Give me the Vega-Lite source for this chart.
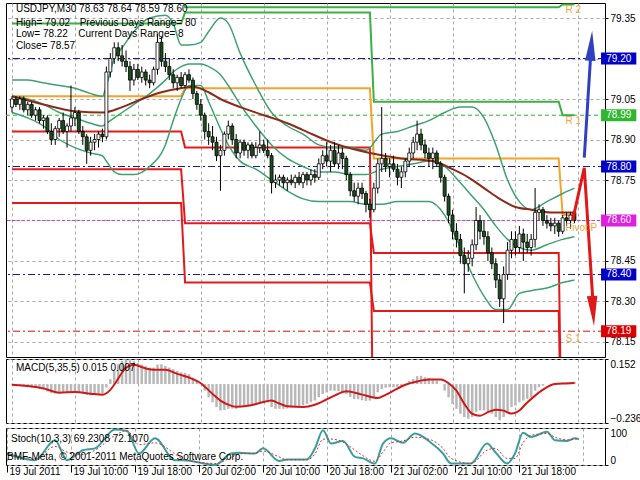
{
"$schema": "https://vega.github.io/schema/vega-lite/v6.json",
"background": "white",
"padding": {"left": 2, "top": 2, "right": 0, "bottom": 0},
"spacing": 0,
"config": {
  "font": "Liberation Sans",
  "view": {"stroke": "black", "strokeWidth": 1},
  "axis": {"labelFont": "Liberation Sans", "labelFontSize": 10, "labelColor": "black", "tickColor": "black", "domain": false, "gridColor": "#a8a8a8", "gridDash": [3, 3], "gridWidth": 1, "gridOpacity": 1, "labelOverlap": false},
  "text": {"font": "Liberation Sans", "fontSize": 10, "color": "black"}
},
"datasets": {
  "bars": [
    {"t":"2011-07-19T02:00","o":79.02,"h":79.06,"l":79.00,"c":79.05,"m":-0.005},
    {"t":"2011-07-19T02:30","o":79.05,"h":79.06,"l":79.02,"c":79.03,"m":-0.008},
    {"t":"2011-07-19T03:00","o":79.03,"h":79.06,"l":79.01,"c":79.05,"m":-0.010},
    {"t":"2011-07-19T03:30","o":79.05,"h":79.06,"l":79.00,"c":79.01,"m":-0.015},
    {"t":"2011-07-19T04:00","o":79.01,"h":79.04,"l":78.99,"c":79.03,"m":-0.018},
    {"t":"2011-07-19T04:30","o":79.03,"h":79.04,"l":78.98,"c":78.99,"m":-0.022},
    {"t":"2011-07-19T05:00","o":78.99,"h":79.02,"l":78.97,"c":79.01,"m":-0.025},
    {"t":"2011-07-19T05:30","o":79.01,"h":79.02,"l":78.96,"c":78.97,"m":-0.030},
    {"t":"2011-07-19T06:00","o":78.97,"h":78.99,"l":78.94,"c":78.98,"m":-0.035},
    {"t":"2011-07-19T06:30","o":78.98,"h":78.99,"l":78.92,"c":78.93,"m":-0.045},
    {"t":"2011-07-19T07:00","o":78.93,"h":78.96,"l":78.88,"c":78.90,"m":-0.055},
    {"t":"2011-07-19T07:30","o":78.90,"h":78.95,"l":78.88,"c":78.94,"m":-0.058},
    {"t":"2011-07-19T08:00","o":78.94,"h":78.98,"l":78.91,"c":78.97,"m":-0.055},
    {"t":"2011-07-19T08:30","o":78.97,"h":79.00,"l":78.92,"c":78.93,"m":-0.052},
    {"t":"2011-07-19T09:00","o":78.93,"h":78.96,"l":78.87,"c":78.95,"m":-0.050},
    {"t":"2011-07-19T09:30","o":78.95,"h":79.10,"l":78.93,"c":78.98,"m":-0.045},
    {"t":"2011-07-19T10:00","o":78.98,"h":79.02,"l":78.95,"c":79.00,"m":-0.045},
    {"t":"2011-07-19T10:30","o":79.00,"h":79.01,"l":78.92,"c":78.93,"m":-0.050},
    {"t":"2011-07-19T11:00","o":78.93,"h":78.95,"l":78.88,"c":78.91,"m":-0.058},
    {"t":"2011-07-19T11:30","o":78.91,"h":78.92,"l":78.81,"c":78.86,"m":-0.065},
    {"t":"2011-07-19T12:00","o":78.86,"h":78.91,"l":78.84,"c":78.89,"m":-0.068},
    {"t":"2011-07-19T12:30","o":78.89,"h":78.92,"l":78.86,"c":78.90,"m":-0.066},
    {"t":"2011-07-19T13:00","o":78.90,"h":78.93,"l":78.87,"c":78.92,"m":-0.062},
    {"t":"2011-07-19T13:30","o":78.92,"h":78.94,"l":78.89,"c":78.91,"m":-0.058},
    {"t":"2011-07-19T14:00","o":78.91,"h":79.17,"l":78.90,"c":79.15,"m":-0.020},
    {"t":"2011-07-19T14:30","o":79.15,"h":79.22,"l":79.13,"c":79.20,"m":0.030},
    {"t":"2011-07-19T15:00","o":79.20,"h":79.26,"l":79.18,"c":79.24,"m":0.080},
    {"t":"2011-07-19T15:30","o":79.24,"h":79.26,"l":79.19,"c":79.21,"m":0.120},
    {"t":"2011-07-19T16:00","o":79.21,"h":79.25,"l":79.17,"c":79.19,"m":0.140},
    {"t":"2011-07-19T16:30","o":79.19,"h":79.23,"l":79.15,"c":79.17,"m":0.150},
    {"t":"2011-07-19T17:00","o":79.17,"h":79.19,"l":79.08,"c":79.12,"m":0.145},
    {"t":"2011-07-19T17:30","o":79.12,"h":79.18,"l":79.10,"c":79.16,"m":0.138},
    {"t":"2011-07-19T18:00","o":79.16,"h":79.18,"l":79.12,"c":79.13,"m":0.128},
    {"t":"2011-07-19T18:30","o":79.13,"h":79.17,"l":79.11,"c":79.15,"m":0.118},
    {"t":"2011-07-19T19:00","o":79.15,"h":79.16,"l":79.10,"c":79.12,"m":0.108},
    {"t":"2011-07-19T19:30","o":79.12,"h":79.14,"l":79.09,"c":79.11,"m":0.100},
    {"t":"2011-07-19T20:00","o":79.11,"h":79.17,"l":79.10,"c":79.16,"m":0.100},
    {"t":"2011-07-19T20:30","o":79.16,"h":79.29,"l":79.14,"c":79.26,"m":0.118},
    {"t":"2011-07-19T21:00","o":79.26,"h":79.28,"l":79.17,"c":79.19,"m":0.120},
    {"t":"2011-07-19T21:30","o":79.19,"h":79.22,"l":79.15,"c":79.17,"m":0.110},
    {"t":"2011-07-19T22:00","o":79.17,"h":79.20,"l":79.12,"c":79.14,"m":0.100},
    {"t":"2011-07-19T22:30","o":79.14,"h":79.16,"l":79.09,"c":79.11,"m":0.090},
    {"t":"2011-07-19T23:00","o":79.11,"h":79.14,"l":79.08,"c":79.13,"m":0.080},
    {"t":"2011-07-19T23:30","o":79.13,"h":79.15,"l":79.09,"c":79.10,"m":0.070},
    {"t":"2011-07-20T00:00","o":79.10,"h":79.15,"l":79.09,"c":79.14,"m":0.068},
    {"t":"2011-07-20T00:30","o":79.14,"h":79.16,"l":79.11,"c":79.12,"m":0.060},
    {"t":"2011-07-20T01:00","o":79.12,"h":79.13,"l":79.05,"c":79.07,"m":0.040},
    {"t":"2011-07-20T01:30","o":79.07,"h":79.08,"l":79.01,"c":79.03,"m":0.020},
    {"t":"2011-07-20T02:00","o":79.03,"h":79.05,"l":78.97,"c":78.99,"m":0.000},
    {"t":"2011-07-20T02:30","o":78.99,"h":79.00,"l":78.90,"c":78.93,"m":-0.040},
    {"t":"2011-07-20T03:00","o":78.93,"h":78.96,"l":78.88,"c":78.91,"m":-0.080},
    {"t":"2011-07-20T03:30","o":78.91,"h":78.95,"l":78.86,"c":78.89,"m":-0.110},
    {"t":"2011-07-20T04:00","o":78.89,"h":78.91,"l":78.82,"c":78.84,"m":-0.140},
    {"t":"2011-07-20T04:30","o":78.84,"h":78.88,"l":78.71,"c":78.86,"m":-0.160},
    {"t":"2011-07-20T05:00","o":78.86,"h":78.93,"l":78.84,"c":78.92,"m":-0.158},
    {"t":"2011-07-20T05:30","o":78.92,"h":78.97,"l":78.90,"c":78.95,"m":-0.150},
    {"t":"2011-07-20T06:00","o":78.95,"h":78.96,"l":78.88,"c":78.90,"m":-0.148},
    {"t":"2011-07-20T06:30","o":78.90,"h":78.92,"l":78.83,"c":78.85,"m":-0.150},
    {"t":"2011-07-20T07:00","o":78.85,"h":78.90,"l":78.83,"c":78.89,"m":-0.140},
    {"t":"2011-07-20T07:30","o":78.89,"h":78.90,"l":78.84,"c":78.86,"m":-0.132},
    {"t":"2011-07-20T08:00","o":78.86,"h":78.89,"l":78.83,"c":78.88,"m":-0.128},
    {"t":"2011-07-20T08:30","o":78.88,"h":78.89,"l":78.83,"c":78.84,"m":-0.128},
    {"t":"2011-07-20T09:00","o":78.84,"h":78.89,"l":78.83,"c":78.87,"m":-0.120},
    {"t":"2011-07-20T09:30","o":78.87,"h":78.93,"l":78.85,"c":78.88,"m":-0.110},
    {"t":"2011-07-20T10:00","o":78.88,"h":78.90,"l":78.85,"c":78.86,"m":-0.108},
    {"t":"2011-07-20T10:30","o":78.86,"h":78.90,"l":78.83,"c":78.84,"m":-0.112},
    {"t":"2011-07-20T11:00","o":78.84,"h":78.85,"l":78.70,"c":78.74,"m":-0.140},
    {"t":"2011-07-20T11:30","o":78.74,"h":78.77,"l":78.72,"c":78.75,"m":-0.150},
    {"t":"2011-07-20T12:00","o":78.75,"h":78.77,"l":78.73,"c":78.76,"m":-0.150},
    {"t":"2011-07-20T12:30","o":78.76,"h":78.77,"l":78.72,"c":78.74,"m":-0.150},
    {"t":"2011-07-20T13:00","o":78.74,"h":78.76,"l":78.71,"c":78.75,"m":-0.148},
    {"t":"2011-07-20T13:30","o":78.75,"h":78.77,"l":78.73,"c":78.74,"m":-0.142},
    {"t":"2011-07-20T14:00","o":78.74,"h":78.77,"l":78.72,"c":78.76,"m":-0.138},
    {"t":"2011-07-20T14:30","o":78.76,"h":78.78,"l":78.73,"c":78.74,"m":-0.132},
    {"t":"2011-07-20T15:00","o":78.74,"h":78.78,"l":78.72,"c":78.77,"m":-0.128},
    {"t":"2011-07-20T15:30","o":78.77,"h":78.78,"l":78.73,"c":78.75,"m":-0.120},
    {"t":"2011-07-20T16:00","o":78.75,"h":78.79,"l":78.73,"c":78.77,"m":-0.110},
    {"t":"2011-07-20T16:30","o":78.77,"h":78.79,"l":78.74,"c":78.76,"m":-0.100},
    {"t":"2011-07-20T17:00","o":78.76,"h":78.83,"l":78.75,"c":78.81,"m":-0.080},
    {"t":"2011-07-20T17:30","o":78.81,"h":78.86,"l":78.79,"c":78.84,"m":-0.060},
    {"t":"2011-07-20T18:00","o":78.84,"h":78.89,"l":78.80,"c":78.82,"m":-0.050},
    {"t":"2011-07-20T18:30","o":78.82,"h":78.88,"l":78.78,"c":78.86,"m":-0.040},
    {"t":"2011-07-20T19:00","o":78.86,"h":78.89,"l":78.80,"c":78.81,"m":-0.040},
    {"t":"2011-07-20T19:30","o":78.81,"h":78.88,"l":78.79,"c":78.85,"m":-0.042},
    {"t":"2011-07-20T20:00","o":78.85,"h":78.87,"l":78.79,"c":78.83,"m":-0.050},
    {"t":"2011-07-20T20:30","o":78.83,"h":78.84,"l":78.75,"c":78.77,"m":-0.060},
    {"t":"2011-07-20T21:00","o":78.77,"h":78.78,"l":78.69,"c":78.71,"m":-0.078},
    {"t":"2011-07-20T21:30","o":78.71,"h":78.74,"l":78.67,"c":78.69,"m":-0.090},
    {"t":"2011-07-20T22:00","o":78.69,"h":78.74,"l":78.66,"c":78.72,"m":-0.092},
    {"t":"2011-07-20T22:30","o":78.72,"h":78.74,"l":78.68,"c":78.70,"m":-0.098},
    {"t":"2011-07-20T23:00","o":78.70,"h":78.71,"l":78.63,"c":78.66,"m":-0.102},
    {"t":"2011-07-20T23:30","o":78.66,"h":78.68,"l":78.61,"c":78.64,"m":-0.100},
    {"t":"2011-07-21T00:00","o":78.64,"h":78.74,"l":78.63,"c":78.72,"m":-0.080},
    {"t":"2011-07-21T00:30","o":78.72,"h":78.83,"l":78.70,"c":78.81,"m":-0.050},
    {"t":"2011-07-21T01:00","o":78.81,"h":79.02,"l":78.78,"c":78.83,"m":-0.030},
    {"t":"2011-07-21T01:30","o":78.83,"h":78.85,"l":78.78,"c":78.80,"m":-0.022},
    {"t":"2011-07-21T02:00","o":78.80,"h":78.83,"l":78.76,"c":78.81,"m":-0.020},
    {"t":"2011-07-21T02:30","o":78.81,"h":78.84,"l":78.78,"c":78.79,"m":-0.020},
    {"t":"2011-07-21T03:00","o":78.79,"h":78.81,"l":78.73,"c":78.76,"m":-0.020},
    {"t":"2011-07-21T03:30","o":78.76,"h":78.80,"l":78.72,"c":78.78,"m":-0.012},
    {"t":"2011-07-21T04:00","o":78.78,"h":78.83,"l":78.76,"c":78.82,"m":0.000},
    {"t":"2011-07-21T04:30","o":78.82,"h":78.87,"l":78.80,"c":78.85,"m":0.018},
    {"t":"2011-07-21T05:00","o":78.85,"h":78.91,"l":78.83,"c":78.89,"m":0.032},
    {"t":"2011-07-21T05:30","o":78.89,"h":78.97,"l":78.86,"c":78.92,"m":0.048},
    {"t":"2011-07-21T06:00","o":78.92,"h":78.94,"l":78.86,"c":78.88,"m":0.050},
    {"t":"2011-07-21T06:30","o":78.88,"h":78.90,"l":78.83,"c":78.85,"m":0.042},
    {"t":"2011-07-21T07:00","o":78.85,"h":78.87,"l":78.80,"c":78.83,"m":0.038},
    {"t":"2011-07-21T07:30","o":78.83,"h":78.87,"l":78.79,"c":78.85,"m":0.032},
    {"t":"2011-07-21T08:00","o":78.85,"h":78.86,"l":78.80,"c":78.81,"m":0.020},
    {"t":"2011-07-21T08:30","o":78.81,"h":78.82,"l":78.74,"c":78.76,"m":0.000},
    {"t":"2011-07-21T09:00","o":78.76,"h":78.77,"l":78.67,"c":78.69,"m":-0.040},
    {"t":"2011-07-21T09:30","o":78.69,"h":78.70,"l":78.59,"c":78.62,"m":-0.080},
    {"t":"2011-07-21T10:00","o":78.62,"h":78.64,"l":78.53,"c":78.56,"m":-0.120},
    {"t":"2011-07-21T10:30","o":78.56,"h":78.59,"l":78.50,"c":78.53,"m":-0.150},
    {"t":"2011-07-21T11:00","o":78.53,"h":78.55,"l":78.44,"c":78.47,"m":-0.180},
    {"t":"2011-07-21T11:30","o":78.47,"h":78.50,"l":78.33,"c":78.44,"m":-0.200},
    {"t":"2011-07-21T12:00","o":78.44,"h":78.49,"l":78.41,"c":78.46,"m":-0.210},
    {"t":"2011-07-21T12:30","o":78.46,"h":78.53,"l":78.43,"c":78.51,"m":-0.200},
    {"t":"2011-07-21T13:00","o":78.51,"h":78.65,"l":78.49,"c":78.60,"m":-0.170},
    {"t":"2011-07-21T13:30","o":78.60,"h":78.62,"l":78.53,"c":78.56,"m":-0.160},
    {"t":"2011-07-21T14:00","o":78.56,"h":78.60,"l":78.51,"c":78.54,"m":-0.160},
    {"t":"2011-07-21T14:30","o":78.54,"h":78.56,"l":78.45,"c":78.48,"m":-0.170},
    {"t":"2011-07-21T15:00","o":78.48,"h":78.50,"l":78.42,"c":78.44,"m":-0.180},
    {"t":"2011-07-21T15:30","o":78.44,"h":78.46,"l":78.35,"c":78.38,"m":-0.200},
    {"t":"2011-07-21T16:00","o":78.38,"h":78.40,"l":78.28,"c":78.31,"m":-0.220},
    {"t":"2011-07-21T16:30","o":78.31,"h":78.43,"l":78.22,"c":78.40,"m":-0.200},
    {"t":"2011-07-21T17:00","o":78.40,"h":78.52,"l":78.38,"c":78.49,"m":-0.170},
    {"t":"2011-07-21T17:30","o":78.49,"h":78.56,"l":78.46,"c":78.53,"m":-0.140},
    {"t":"2011-07-21T18:00","o":78.53,"h":78.56,"l":78.47,"c":78.50,"m":-0.130},
    {"t":"2011-07-21T18:30","o":78.50,"h":78.58,"l":78.48,"c":78.55,"m":-0.110},
    {"t":"2011-07-21T19:00","o":78.55,"h":78.57,"l":78.45,"c":78.52,"m":-0.100},
    {"t":"2011-07-21T19:30","o":78.52,"h":78.55,"l":78.48,"c":78.50,"m":-0.090},
    {"t":"2011-07-21T20:00","o":78.50,"h":78.55,"l":78.47,"c":78.53,"m":-0.080},
    {"t":"2011-07-21T20:30","o":78.53,"h":78.72,"l":78.50,"c":78.63,"m":-0.040},
    {"t":"2011-07-21T21:00","o":78.63,"h":78.66,"l":78.60,"c":78.64,"m":-0.020},
    {"t":"2011-07-21T21:30","o":78.64,"h":78.65,"l":78.58,"c":78.60,"m":-0.010},
    {"t":"2011-07-21T22:00","o":78.60,"h":78.62,"l":78.57,"c":78.59,"m":0.000},
    {"t":"2011-07-21T22:30","o":78.59,"h":78.61,"l":78.56,"c":78.58,"m":0.000},
    {"t":"2011-07-21T23:00","o":78.58,"h":78.61,"l":78.55,"c":78.59,"m":0.002},
    {"t":"2011-07-21T23:30","o":78.59,"h":78.60,"l":78.54,"c":78.56,"m":0.003},
    {"t":"2011-07-22T00:00","o":78.56,"h":78.62,"l":78.55,"c":78.61,"m":0.008},
    {"t":"2011-07-22T00:30","o":78.61,"h":78.63,"l":78.58,"c":78.60,"m":0.010},
    {"t":"2011-07-22T01:00","o":78.60,"h":78.63,"l":78.57,"c":78.62,"m":0.012},
    {"t":"2011-07-22T01:30","o":78.63,"h":78.64,"l":78.59,"c":78.60,"m":0.015}
  ],
  "bb": [
    {"t":"2011-07-19T02:00","up":79.12,"mid":79.06,"lo":79.00},
    {"t":"2011-07-19T04:00","up":79.12,"mid":79.05,"lo":78.98},
    {"t":"2011-07-19T06:00","up":79.11,"mid":79.03,"lo":78.95},
    {"t":"2011-07-19T08:00","up":79.10,"mid":79.00,"lo":78.90},
    {"t":"2011-07-19T10:00","up":79.09,"mid":78.98,"lo":78.87},
    {"t":"2011-07-19T12:00","up":79.07,"mid":78.96,"lo":78.85},
    {"t":"2011-07-19T13:30","up":79.06,"mid":78.95,"lo":78.84},
    {"t":"2011-07-19T14:00","up":79.10,"mid":78.96,"lo":78.82},
    {"t":"2011-07-19T15:00","up":79.20,"mid":78.98,"lo":78.78},
    {"t":"2011-07-19T16:00","up":79.24,"mid":79.00,"lo":78.77},
    {"t":"2011-07-19T17:30","up":79.30,"mid":79.03,"lo":78.77},
    {"t":"2011-07-19T19:30","up":79.35,"mid":79.07,"lo":78.80},
    {"t":"2011-07-19T21:30","up":79.36,"mid":79.12,"lo":78.88},
    {"t":"2011-07-19T22:30","up":79.33,"mid":79.15,"lo":78.97},
    {"t":"2011-07-19T23:30","up":79.25,"mid":79.17,"lo":79.05},
    {"t":"2011-07-20T00:30","up":79.25,"mid":79.18,"lo":79.10},
    {"t":"2011-07-20T02:00","up":79.26,"mid":79.18,"lo":79.10},
    {"t":"2011-07-20T03:00","up":79.30,"mid":79.17,"lo":79.04},
    {"t":"2011-07-20T04:30","up":79.35,"mid":79.14,"lo":78.94},
    {"t":"2011-07-20T05:30","up":79.33,"mid":79.10,"lo":78.88},
    {"t":"2011-07-20T07:00","up":79.22,"mid":79.03,"lo":78.82},
    {"t":"2011-07-20T09:00","up":79.10,"mid":78.95,"lo":78.79},
    {"t":"2011-07-20T11:00","up":79.00,"mid":78.88,"lo":78.75},
    {"t":"2011-07-20T13:00","up":78.95,"mid":78.83,"lo":78.71},
    {"t":"2011-07-20T15:00","up":78.92,"mid":78.80,"lo":78.68},
    {"t":"2011-07-20T17:00","up":78.88,"mid":78.78,"lo":78.67},
    {"t":"2011-07-20T19:00","up":78.87,"mid":78.78,"lo":78.67},
    {"t":"2011-07-20T21:00","up":78.87,"mid":78.77,"lo":78.67},
    {"t":"2011-07-20T23:00","up":78.86,"mid":78.77,"lo":78.66},
    {"t":"2011-07-21T01:00","up":78.92,"mid":78.79,"lo":78.66},
    {"t":"2011-07-21T03:00","up":78.93,"mid":78.80,"lo":78.67},
    {"t":"2011-07-21T05:00","up":78.95,"mid":78.81,"lo":78.67},
    {"t":"2011-07-21T07:00","up":78.97,"mid":78.82,"lo":78.67},
    {"t":"2011-07-21T09:00","up":79.00,"mid":78.80,"lo":78.62},
    {"t":"2011-07-21T11:00","up":79.02,"mid":78.74,"lo":78.50},
    {"t":"2011-07-21T12:30","up":79.02,"mid":78.69,"lo":78.40},
    {"t":"2011-07-21T14:00","up":78.98,"mid":78.64,"lo":78.32},
    {"t":"2011-07-21T15:30","up":78.88,"mid":78.58,"lo":78.27},
    {"t":"2011-07-21T17:00","up":78.75,"mid":78.53,"lo":78.27},
    {"t":"2011-07-21T18:30","up":78.67,"mid":78.50,"lo":78.33},
    {"t":"2011-07-21T20:00","up":78.64,"mid":78.49,"lo":78.34},
    {"t":"2011-07-21T22:00","up":78.67,"mid":78.51,"lo":78.35},
    {"t":"2011-07-22T00:00","up":78.70,"mid":78.53,"lo":78.37},
    {"t":"2011-07-22T01:30","up":78.72,"mid":78.54,"lo":78.38}
  ],
  "ma": [
    {"t":"2011-07-19T02:00","v":79.06},{"t":"2011-07-19T06:00","v":79.03},{"t":"2011-07-19T10:00","v":79.005},
    {"t":"2011-07-19T13:30","v":79.0},{"t":"2011-07-19T16:00","v":79.02},{"t":"2011-07-19T18:30","v":79.05},
    {"t":"2011-07-19T21:00","v":79.075},{"t":"2011-07-19T23:30","v":79.09},{"t":"2011-07-20T01:00","v":79.095},
    {"t":"2011-07-20T03:00","v":79.075},{"t":"2011-07-20T04:30","v":79.05},{"t":"2011-07-20T07:00","v":79.02},
    {"t":"2011-07-20T10:00","v":78.99},{"t":"2011-07-20T13:00","v":78.96},{"t":"2011-07-20T15:00","v":78.935},
    {"t":"2011-07-20T19:00","v":78.885},{"t":"2011-07-20T23:30","v":78.85},{"t":"2011-07-21T03:30","v":78.83},
    {"t":"2011-07-21T07:30","v":78.82},{"t":"2011-07-21T10:00","v":78.79},{"t":"2011-07-21T12:00","v":78.76},
    {"t":"2011-07-21T14:00","v":78.72},{"t":"2011-07-21T16:00","v":78.68},{"t":"2011-07-21T18:00","v":78.65},
    {"t":"2011-07-21T20:00","v":78.64},{"t":"2011-07-21T22:30","v":78.63},{"t":"2011-07-22T01:30","v":78.63}
  ],
  "piv": [
    {"s":"PP","t":"2011-07-19T02:00","p":79.06},{"s":"PP","t":"2011-07-19T23:30","p":79.06},{"s":"PP","t":"2011-07-20T00:00","p":79.09},{"s":"PP","t":"2011-07-20T23:30","p":79.09},{"s":"PP","t":"2011-07-21T00:00","p":78.83},{"s":"PP","t":"2011-07-21T23:30","p":78.83},{"s":"PP","t":"2011-07-22T00:00","p":78.62},{"s":"PP","t":"2011-07-22T01:30","p":78.62},
    {"s":"R1","t":"2011-07-19T02:00","p":79.33},{"s":"R1","t":"2011-07-19T23:30","p":79.33},{"s":"R1","t":"2011-07-20T00:00","p":79.37},{"s":"R1","t":"2011-07-20T23:30","p":79.37},{"s":"R1","t":"2011-07-21T00:00","p":79.04},{"s":"R1","t":"2011-07-21T23:30","p":79.04},{"s":"R1","t":"2011-07-22T00:00","p":78.99},{"s":"R1","t":"2011-07-22T01:30","p":78.99},
    {"s":"R2","t":"2011-07-19T02:00","p":79.6},{"s":"R2","t":"2011-07-19T23:30","p":79.6},{"s":"R2","t":"2011-07-20T00:00","p":79.39},{"s":"R2","t":"2011-07-20T23:30","p":79.39},{"s":"R2","t":"2011-07-21T00:00","p":79.39},{"s":"R2","t":"2011-07-21T23:30","p":79.39},{"s":"R2","t":"2011-07-22T00:00","p":79.40},{"s":"R2","t":"2011-07-22T01:30","p":79.40},
    {"s":"S1","t":"2011-07-19T02:00","p":78.93},{"s":"S1","t":"2011-07-19T23:30","p":78.93},{"s":"S1","t":"2011-07-20T00:00","p":78.87},{"s":"S1","t":"2011-07-20T23:30","p":78.87},{"s":"S1","t":"2011-07-21T00:00","p":77.5},{"s":"S1","t":"2011-07-22T01:30","p":77.5},
    {"s":"S2","t":"2011-07-19T02:00","p":78.79},{"s":"S2","t":"2011-07-19T23:30","p":78.79},{"s":"S2","t":"2011-07-20T00:00","p":78.59},{"s":"S2","t":"2011-07-20T23:30","p":78.59},{"s":"S2","t":"2011-07-21T00:00","p":78.48},{"s":"S2","t":"2011-07-21T23:30","p":78.48},{"s":"S2","t":"2011-07-22T00:00","p":77.5},{"s":"S2","t":"2011-07-22T01:30","p":77.5},
    {"s":"S3","t":"2011-07-19T02:00","p":78.665},{"s":"S3","t":"2011-07-19T23:30","p":78.665},{"s":"S3","t":"2011-07-20T00:00","p":78.37},{"s":"S3","t":"2011-07-20T23:30","p":78.37},{"s":"S3","t":"2011-07-21T00:00","p":78.265},{"s":"S3","t":"2011-07-21T23:30","p":78.265},{"s":"S3","t":"2011-07-22T00:00","p":77.5},{"s":"S3","t":"2011-07-22T01:30","p":77.5}
  ],
  "now": [
    {"p":79.20,"label":"79.20","kind":"blue"},
    {"p":78.99,"label":"78.99","kind":"green"},
    {"p":78.80,"label":"78.80","kind":"blue"},
    {"p":78.60,"label":"78.60","kind":"magenta"},
    {"p":78.40,"label":"78.40","kind":"blue"},
    {"p":78.19,"label":"78.19","kind":"red"}
  ],
  "sig": [
    {"t":"2011-07-19T02:00","v":-0.004},{"t":"2011-07-19T06:00","v":-0.026},{"t":"2011-07-19T08:00","v":-0.052},{"t":"2011-07-19T10:00","v":-0.048},
    {"t":"2011-07-19T12:00","v":-0.058},{"t":"2011-07-19T13:30","v":-0.064},{"t":"2011-07-19T14:30","v":-0.035},{"t":"2011-07-19T15:00","v":-0.004},
    {"t":"2011-07-19T16:00","v":0.07},{"t":"2011-07-19T16:30","v":0.1},{"t":"2011-07-19T17:30","v":0.117},{"t":"2011-07-19T19:00","v":0.095},
    {"t":"2011-07-19T20:00","v":0.087},{"t":"2011-07-19T21:30","v":0.087},{"t":"2011-07-19T23:00","v":0.062},{"t":"2011-07-20T00:30","v":0.04},
    {"t":"2011-07-20T02:00","v":0.005},{"t":"2011-07-20T03:30","v":-0.06},{"t":"2011-07-20T04:30","v":-0.1},{"t":"2011-07-20T05:30","v":-0.125},
    {"t":"2011-07-20T06:30","v":-0.138},{"t":"2011-07-20T08:00","v":-0.132},{"t":"2011-07-20T09:30","v":-0.115},{"t":"2011-07-20T11:00","v":-0.1},
    {"t":"2011-07-20T12:00","v":-0.118},{"t":"2011-07-20T13:00","v":-0.134},{"t":"2011-07-20T15:00","v":-0.139},{"t":"2011-07-20T16:30","v":-0.125},
    {"t":"2011-07-20T17:30","v":-0.105},{"t":"2011-07-20T19:00","v":-0.07},{"t":"2011-07-20T20:30","v":-0.044},{"t":"2011-07-20T22:30","v":-0.064},
    {"t":"2011-07-21T00:30","v":-0.085},{"t":"2011-07-21T01:30","v":-0.065},{"t":"2011-07-21T02:30","v":-0.04},{"t":"2011-07-21T04:00","v":-0.004},
    {"t":"2011-07-21T05:30","v":0.016},{"t":"2011-07-21T07:00","v":0.027},{"t":"2011-07-21T08:30","v":0.027},{"t":"2011-07-21T09:30","v":0.005},
    {"t":"2011-07-21T10:30","v":-0.04},{"t":"2011-07-21T11:30","v":-0.12},{"t":"2011-07-21T12:30","v":-0.18},{"t":"2011-07-21T13:30","v":-0.192},
    {"t":"2011-07-21T14:30","v":-0.17},{"t":"2011-07-21T15:30","v":-0.155},{"t":"2011-07-21T16:30","v":-0.161},{"t":"2011-07-21T17:30","v":-0.179},
    {"t":"2011-07-21T18:30","v":-0.16},{"t":"2011-07-21T19:30","v":-0.112},{"t":"2011-07-21T20:30","v":-0.07},{"t":"2011-07-21T21:30","v":-0.034},
    {"t":"2011-07-21T23:00","v":0.0},{"t":"2011-07-22T00:30","v":0.004},{"t":"2011-07-22T01:30","v":0.007}
  ],
  "st": [
    {"t":"2011-07-19T02:00","k":31,"d":30},{"t":"2011-07-19T05:30","k":13,"d":18},{"t":"2011-07-19T08:00","k":67,"d":50},
    {"t":"2011-07-19T09:30","k":13,"d":35},{"t":"2011-07-19T11:30","k":40,"d":28},{"t":"2011-07-19T13:00","k":45,"d":40},
    {"t":"2011-07-19T15:30","k":96,"d":80},{"t":"2011-07-19T17:00","k":92,"d":93},{"t":"2011-07-19T18:30","k":31,"d":55},
    {"t":"2011-07-19T20:30","k":72,"d":60},{"t":"2011-07-19T23:00","k":13,"d":30},{"t":"2011-07-20T00:00","k":13,"d":16},
    {"t":"2011-07-20T04:00","k":0,"d":4},{"t":"2011-07-20T06:00","k":31,"d":20},{"t":"2011-07-20T07:00","k":33,"d":30},
    {"t":"2011-07-20T09:00","k":31,"d":32},{"t":"2011-07-20T10:00","k":45,"d":38},{"t":"2011-07-20T12:00","k":11,"d":22},
    {"t":"2011-07-20T13:00","k":15,"d":14},{"t":"2011-07-20T15:30","k":15,"d":14},{"t":"2011-07-20T16:30","k":45,"d":30},
    {"t":"2011-07-20T17:30","k":94,"d":70},{"t":"2011-07-20T18:30","k":58,"d":70},{"t":"2011-07-20T20:00","k":65,"d":62},
    {"t":"2011-07-20T21:30","k":22,"d":40},{"t":"2011-07-20T22:30","k":18,"d":25},{"t":"2011-07-21T00:00","k":4,"d":10},
    {"t":"2011-07-21T01:00","k":58,"d":35},{"t":"2011-07-21T02:00","k":72,"d":60},{"t":"2011-07-21T03:30","k":60,"d":65},
    {"t":"2011-07-21T05:00","k":85,"d":75},{"t":"2011-07-21T07:00","k":60,"d":68},{"t":"2011-07-21T08:30","k":31,"d":45},
    {"t":"2011-07-21T09:30","k":4,"d":18},{"t":"2011-07-21T12:00","k":4,"d":4},{"t":"2011-07-21T14:00","k":58,"d":40},
    {"t":"2011-07-21T15:00","k":36,"d":45},{"t":"2011-07-21T16:30","k":4,"d":18},{"t":"2011-07-21T17:30","k":31,"d":18},
    {"t":"2011-07-21T18:30","k":87,"d":60},{"t":"2011-07-21T19:30","k":76,"d":80},{"t":"2011-07-21T21:30","k":90,"d":85},
    {"t":"2011-07-21T22:30","k":67,"d":75},{"t":"2011-07-22T00:00","k":65,"d":68},{"t":"2011-07-22T01:00","k":72,"d":70},
    {"t":"2011-07-22T01:30","k":69.23,"d":72.11}
  ]
},
"vconcat": [
  {
    "width": 599, "height": 354,
    "resolve": {"scale": {"color": "independent", "strokeDash": "independent"}},
    "layer": [
      {
        "data": {"name": "now"},
        "mark": {"type": "rule", "strokeWidth": 1},
        "encoding": {
          "y": {"field": "p", "type": "quantitative", "scale": {"domain": [78.0944, 79.4056], "zero": false, "nice": false},
            "axis": {"orient": "right", "title": null, "grid": true, "tickSize": 3, "labelPadding": 2,
              "values": [78.15,78.225,78.3,78.375,78.45,78.525,78.6,78.675,78.75,78.825,78.9,78.975,79.05,79.125,79.2,79.275,79.35],
              "labelExpr": "(round(datum.value*1000) % 150 == 0 && abs(datum.value - 79.2) > 0.01 && abs(datum.value - 78.6) > 0.01) ? format(datum.value, '.2f') : ''",
              "tickOpacity": {"condition": {"test": "round(datum.value*1000) % 150 != 0", "value": 0}, "value": 1}}},
          "color": {"field": "kind", "type": "nominal", "scale": {"domain": ["blue","green","magenta","red"], "range": ["#1a1aa0","#30b030","#d040d0","#d01010"]}, "legend": null},
          "strokeDash": {"field": "kind", "type": "nominal", "scale": {"domain": ["blue","green","magenta","red"], "range": [[7,3,2,3],[4,3],[3,2],[7,3,2,3]]}, "legend": null}
        }
      },
      {
        "data": {"name": "piv"},
        "mark": {"type": "line", "strokeWidth": 2, "clip": true},
        "encoding": {
          "x": {"field": "t", "type": "temporal",
            "scale": {"domain": [{"year":2011,"month":7,"date":19,"hours":1,"minutes":52,"seconds":30},{"year":2011,"month":7,"date":22,"hours":4,"minutes":45}]},
            "axis": {"title": null, "labels": false, "ticks": false, "grid": true, "minExtent": 0, "maxExtent": 0, "offset": 0,
              "values": [{"year":2011,"month":7,"date":19,"hours":2},{"year":2011,"month":7,"date":19,"hours":6},{"year":2011,"month":7,"date":19,"hours":10},{"year":2011,"month":7,"date":19,"hours":14},{"year":2011,"month":7,"date":19,"hours":18},{"year":2011,"month":7,"date":19,"hours":22},{"year":2011,"month":7,"date":20,"hours":2},{"year":2011,"month":7,"date":20,"hours":6},{"year":2011,"month":7,"date":20,"hours":10},{"year":2011,"month":7,"date":20,"hours":14},{"year":2011,"month":7,"date":20,"hours":18},{"year":2011,"month":7,"date":20,"hours":22},{"year":2011,"month":7,"date":21,"hours":2},{"year":2011,"month":7,"date":21,"hours":6},{"year":2011,"month":7,"date":21,"hours":10},{"year":2011,"month":7,"date":21,"hours":14},{"year":2011,"month":7,"date":21,"hours":18},{"year":2011,"month":7,"date":21,"hours":22},{"year":2011,"month":7,"date":22,"hours":2}]}},
          "y": {"field": "p", "type": "quantitative"},
          "detail": {"field": "s"},
          "color": {"field": "s", "type": "nominal", "scale": {"domain": ["PP","R1","R2","S1","S2","S3"], "range": ["#f2a52a","#3cb043","#3cb043","#e41a1a","#e41a1a","#e41a1a"]}, "legend": null}
        }
      },
      {"data": {"name": "bb"}, "mark": {"type": "line", "stroke": "#3fa070", "strokeWidth": 1.5, "interpolate": "monotone"},
        "encoding": {"x": {"field": "t", "type": "temporal"}, "y": {"field": "up", "type": "quantitative"}}},
      {"data": {"name": "bb"}, "mark": {"type": "line", "stroke": "#3fa070", "strokeWidth": 1.5, "interpolate": "monotone"},
        "encoding": {"x": {"field": "t", "type": "temporal"}, "y": {"field": "mid", "type": "quantitative"}}},
      {"data": {"name": "bb"}, "mark": {"type": "line", "stroke": "#3fa070", "strokeWidth": 1.5, "interpolate": "monotone"},
        "encoding": {"x": {"field": "t", "type": "temporal"}, "y": {"field": "lo", "type": "quantitative"}}},
      {"data": {"name": "ma"}, "mark": {"type": "line", "stroke": "#8b2b1c", "strokeWidth": 2, "interpolate": "monotone"},
        "encoding": {"x": {"field": "t", "type": "temporal"}, "y": {"field": "v", "type": "quantitative"}}},
      {"data": {"name": "bars"}, "mark": {"type": "rule", "color": "black", "strokeWidth": 1},
        "encoding": {"x": {"field": "t", "type": "temporal"}, "y": {"field": "l", "type": "quantitative"}, "y2": {"field": "h"}}},
      {"data": {"name": "bars"}, "mark": {"type": "bar", "width": 3, "stroke": "black", "strokeWidth": 0.8},
        "encoding": {"x": {"field": "t", "type": "temporal"}, "y": {"field": "o", "type": "quantitative"}, "y2": {"field": "c"},
          "fill": {"condition": {"test": "datum.c >= datum.o", "value": "white"}, "value": "#1b4f1b"}}},
      {"data": {"values": [{"t":"2011-07-22T02:45","p":78.833},{"t":"2011-07-22T03:40","p":79.26}]},
        "mark": {"type": "line", "stroke": "#3040c0", "strokeWidth": 3},
        "encoding": {"x": {"field": "t", "type": "temporal"}, "y": {"field": "p", "type": "quantitative"}}},
      {"data": {"values": [{}]},
        "mark": {"type": "point", "shape": "M0,-1L0.35,1L-0.35,1Z", "filled": true, "size": 900, "color": "#3040c0", "opacity": 1, "angle": 3.6},
        "encoding": {"x": {"datum": {"year":2011,"month":7,"date":22,"hours":3,"minutes":38}, "type": "temporal"}, "y": {"datum": 79.247, "type": "quantitative"}}},
      {"data": {"values": [{"t":"2011-07-22T01:15","p":78.598},{"t":"2011-07-22T02:45","p":78.795},{"t":"2011-07-22T03:55","p":78.27}]},
        "mark": {"type": "line", "stroke": "#e01818", "strokeWidth": 3},
        "encoding": {"x": {"field": "t", "type": "temporal"}, "y": {"field": "p", "type": "quantitative"}}},
      {"data": {"values": [{}]},
        "mark": {"type": "point", "shape": "M0,1L0.35,-1L-0.35,-1Z", "filled": true, "size": 900, "color": "#e01818", "opacity": 1, "angle": -3.7},
        "encoding": {"x": {"datum": {"year":2011,"month":7,"date":22,"hours":3,"minutes":52}, "type": "temporal"}, "y": {"datum": 78.265, "type": "quantitative"}}},
      {"data": {"values": [{}]}, "mark": {"type": "text", "align": "left", "baseline": "middle", "text": "USDJPY,M30  78.63 78.64 78.59 78.60"},
        "encoding": {"x": {"datum": {"year":2011,"month":7,"date":19,"hours":2,"minutes":30}, "type": "temporal"}, "y": {"datum": 79.382, "type": "quantitative"}}},
      {"data": {"values": [{}]}, "mark": {"type": "text", "align": "left", "baseline": "middle", "text": "High= 79.02"},
        "encoding": {"x": {"datum": {"year":2011,"month":7,"date":19,"hours":2,"minutes":30}, "type": "temporal"}, "y": {"datum": 79.333, "type": "quantitative"}}},
      {"data": {"values": [{}]}, "mark": {"type": "text", "align": "left", "baseline": "middle", "text": "Low= 78.22"},
        "encoding": {"x": {"datum": {"year":2011,"month":7,"date":19,"hours":2,"minutes":30}, "type": "temporal"}, "y": {"datum": 79.290, "type": "quantitative"}}},
      {"data": {"values": [{}]}, "mark": {"type": "text", "align": "left", "baseline": "middle", "text": "Close= 78.57"},
        "encoding": {"x": {"datum": {"year":2011,"month":7,"date":19,"hours":2,"minutes":30}, "type": "temporal"}, "y": {"datum": 79.246, "type": "quantitative"}}},
      {"data": {"values": [{}]}, "mark": {"type": "text", "align": "left", "baseline": "middle", "text": "Previous Days Range= 80"},
        "encoding": {"x": {"datum": {"year":2011,"month":7,"date":19,"hours":10,"minutes":36}, "type": "temporal"}, "y": {"datum": 79.333, "type": "quantitative"}}},
      {"data": {"values": [{}]}, "mark": {"type": "text", "align": "left", "baseline": "middle", "text": "Current Days Range= 8"},
        "encoding": {"x": {"datum": {"year":2011,"month":7,"date":19,"hours":10,"minutes":26}, "type": "temporal"}, "y": {"datum": 79.290, "type": "quantitative"}}},
      {"data": {"values": [{}]}, "mark": {"type": "text", "align": "left", "baseline": "middle", "text": "R 2", "color": "#e5a845"},
        "encoding": {"x": {"datum": {"year":2011,"month":7,"date":22,"hours":0,"minutes":22}, "type": "temporal"}, "y": {"datum": 79.380, "type": "quantitative"}}},
      {"data": {"values": [{}]}, "mark": {"type": "text", "align": "left", "baseline": "middle", "text": "R 1", "color": "#e5a845"},
        "encoding": {"x": {"datum": {"year":2011,"month":7,"date":22,"hours":0,"minutes":22}, "type": "temporal"}, "y": {"datum": 78.969, "type": "quantitative"}}},
      {"data": {"values": [{}]}, "mark": {"type": "text", "align": "left", "baseline": "middle", "text": "Pivot P", "color": "#e5a845"},
        "encoding": {"x": {"datum": {"year":2011,"month":7,"date":22,"hours":0,"minutes":22}, "type": "temporal"}, "y": {"datum": 78.574, "type": "quantitative"}}},
      {"data": {"values": [{}]}, "mark": {"type": "text", "align": "left", "baseline": "middle", "text": "S 1", "color": "#e5a845"},
        "encoding": {"x": {"datum": {"year":2011,"month":7,"date":22,"hours":0,"minutes":22}, "type": "temporal"}, "y": {"datum": 78.161, "type": "quantitative"}}},
      {"data": {"name": "now"},
        "mark": {"type": "rule", "strokeWidth": 12, "strokeCap": "butt"},
        "encoding": {
          "x": {"datum": {"year":2011,"month":7,"date":22,"hours":4,"minutes":53}, "type": "temporal"},
          "x2": {"datum": {"year":2011,"month":7,"date":22,"hours":9,"minutes":22}},
          "y": {"field": "p", "type": "quantitative"},
          "color": {"field": "kind", "type": "nominal", "scale": {"domain": ["blue","green","magenta","red"], "range": ["#0000c8","#2fb82f","#e01ee0","#dc0000"]}, "legend": null}
        }
      },
      {"data": {"name": "now"},
        "mark": {"type": "text", "align": "center", "baseline": "middle", "color": "white"},
        "encoding": {
          "x": {"datum": {"year":2011,"month":7,"date":22,"hours":7,"minutes":8}, "type": "temporal"},
          "y": {"field": "p", "type": "quantitative"},
          "text": {"field": "label"}
        }
      }
    ]
  },
  {
    "width": 599, "height": 64,
    "layer": [
      {"data": {"name": "bars"}, "mark": {"type": "bar", "width": 2.5, "color": "#b8b8b8"},
        "encoding": {
          "x": {"field": "t", "type": "temporal",
            "scale": {"domain": [{"year":2011,"month":7,"date":19,"hours":1,"minutes":52,"seconds":30},{"year":2011,"month":7,"date":22,"hours":4,"minutes":45}]},
            "axis": {"title": null, "labels": false, "ticks": false, "grid": true, "minExtent": 0, "maxExtent": 0, "offset": 0,
              "values": [{"year":2011,"month":7,"date":19,"hours":2},{"year":2011,"month":7,"date":19,"hours":6},{"year":2011,"month":7,"date":19,"hours":10},{"year":2011,"month":7,"date":19,"hours":14},{"year":2011,"month":7,"date":19,"hours":18},{"year":2011,"month":7,"date":19,"hours":22},{"year":2011,"month":7,"date":20,"hours":2},{"year":2011,"month":7,"date":20,"hours":6},{"year":2011,"month":7,"date":20,"hours":10},{"year":2011,"month":7,"date":20,"hours":14},{"year":2011,"month":7,"date":20,"hours":18},{"year":2011,"month":7,"date":20,"hours":22},{"year":2011,"month":7,"date":21,"hours":2},{"year":2011,"month":7,"date":21,"hours":6},{"year":2011,"month":7,"date":21,"hours":10},{"year":2011,"month":7,"date":21,"hours":14},{"year":2011,"month":7,"date":21,"hours":18},{"year":2011,"month":7,"date":21,"hours":22},{"year":2011,"month":7,"date":22,"hours":2}]}},
          "y": {"field": "m", "type": "quantitative", "scale": {"domain": [-0.236, 0.152], "zero": false, "nice": false},
            "axis": {"orient": "right", "title": null, "grid": true, "tickSize": 3, "labelPadding": 2, "labelFlush": true,
              "values": [-0.236, 0, 0.152], "labelExpr": "datum.value == 0 ? '0.00' : format(datum.value, '.3f')"}},
          "y2": {"datum": 0}
        }
      },
      {"data": {"name": "sig"}, "mark": {"type": "line", "stroke": "#d01818", "strokeWidth": 2, "interpolate": "monotone"},
        "encoding": {"x": {"field": "t", "type": "temporal"}, "y": {"field": "v", "type": "quantitative"}}},
      {"data": {"values": [{}]}, "mark": {"type": "text", "align": "left", "baseline": "middle", "text": "MACD(5,35,5) 0.015 0.007"},
        "encoding": {"x": {"datum": {"year":2011,"month":7,"date":19,"hours":2,"minutes":30}, "type": "temporal"}, "y": {"datum": 0.099, "type": "quantitative"}}}
    ]
  },
  {
    "width": 599, "height": 37,
    "layer": [
      {"data": {"name": "st"}, "mark": {"type": "line", "stroke": "#3a9d9d", "strokeWidth": 2, "interpolate": "monotone"},
        "encoding": {
          "x": {"field": "t", "type": "temporal",
            "scale": {"domain": [{"year":2011,"month":7,"date":19,"hours":1,"minutes":52,"seconds":30},{"year":2011,"month":7,"date":22,"hours":4,"minutes":45}]},
            "axis": {"title": null, "grid": true, "tickSize": 7, "labelPadding": -6, "labelAlign": "left", "labelOffset": 2, "labelFlush": false,
              "values": [{"year":2011,"month":7,"date":19,"hours":2},{"year":2011,"month":7,"date":19,"hours":6},{"year":2011,"month":7,"date":19,"hours":10},{"year":2011,"month":7,"date":19,"hours":14},{"year":2011,"month":7,"date":19,"hours":18},{"year":2011,"month":7,"date":19,"hours":22},{"year":2011,"month":7,"date":20,"hours":2},{"year":2011,"month":7,"date":20,"hours":6},{"year":2011,"month":7,"date":20,"hours":10},{"year":2011,"month":7,"date":20,"hours":14},{"year":2011,"month":7,"date":20,"hours":18},{"year":2011,"month":7,"date":20,"hours":22},{"year":2011,"month":7,"date":21,"hours":2},{"year":2011,"month":7,"date":21,"hours":6},{"year":2011,"month":7,"date":21,"hours":10},{"year":2011,"month":7,"date":21,"hours":14},{"year":2011,"month":7,"date":21,"hours":18},{"year":2011,"month":7,"date":21,"hours":22},{"year":2011,"month":7,"date":22,"hours":2}],
              "labelExpr": "(hours(datum.value) % 8 != 2 || date(datum.value) == 22) ? '' : ((date(datum.value) == 19 && hours(datum.value) == 2) ? '19 Jul 2011' : timeFormat(datum.value, '%d %b %H:%M'))",
              "tickOpacity": {"condition": {"test": "hours(datum.value) % 8 != 2 || date(datum.value) == 22", "value": 0}, "value": 1}}},
          "y": {"field": "k", "type": "quantitative", "scale": {"domain": [0, 100], "nice": false},
            "axis": {"orient": "right", "title": null, "grid": true, "tickSize": 3, "labelPadding": 2, "labelFlush": true, "labelOverlap": false, "values": [0, 20, 80, 100], "format": "d"}}
        }
      },
      {"data": {"name": "st"}, "mark": {"type": "line", "stroke": "#d03030", "strokeWidth": 1, "strokeDash": [2, 2], "interpolate": "monotone"},
        "encoding": {"x": {"field": "t", "type": "temporal"}, "y": {"field": "d", "type": "quantitative"}}},
      {"data": {"values": [{}]}, "mark": {"type": "text", "align": "left", "baseline": "middle", "text": "Stoch(10,3,3) 69.2308 72.1070"},
        "encoding": {"x": {"datum": {"year":2011,"month":7,"date":19,"hours":2,"minutes":30}, "type": "temporal"}, "y": {"datum": 70, "type": "quantitative"}}},
      {"data": {"values": [{}]}, "mark": {"type": "text", "align": "left", "baseline": "middle", "text": "BMF-Meta, © 2001-2011 MetaQuotes Software Corp."},
        "encoding": {"x": {"datum": {"year":2011,"month":7,"date":19,"hours":2}, "type": "temporal"}, "y": {"datum": 22, "type": "quantitative"}}}
    ]
  }
]
}
